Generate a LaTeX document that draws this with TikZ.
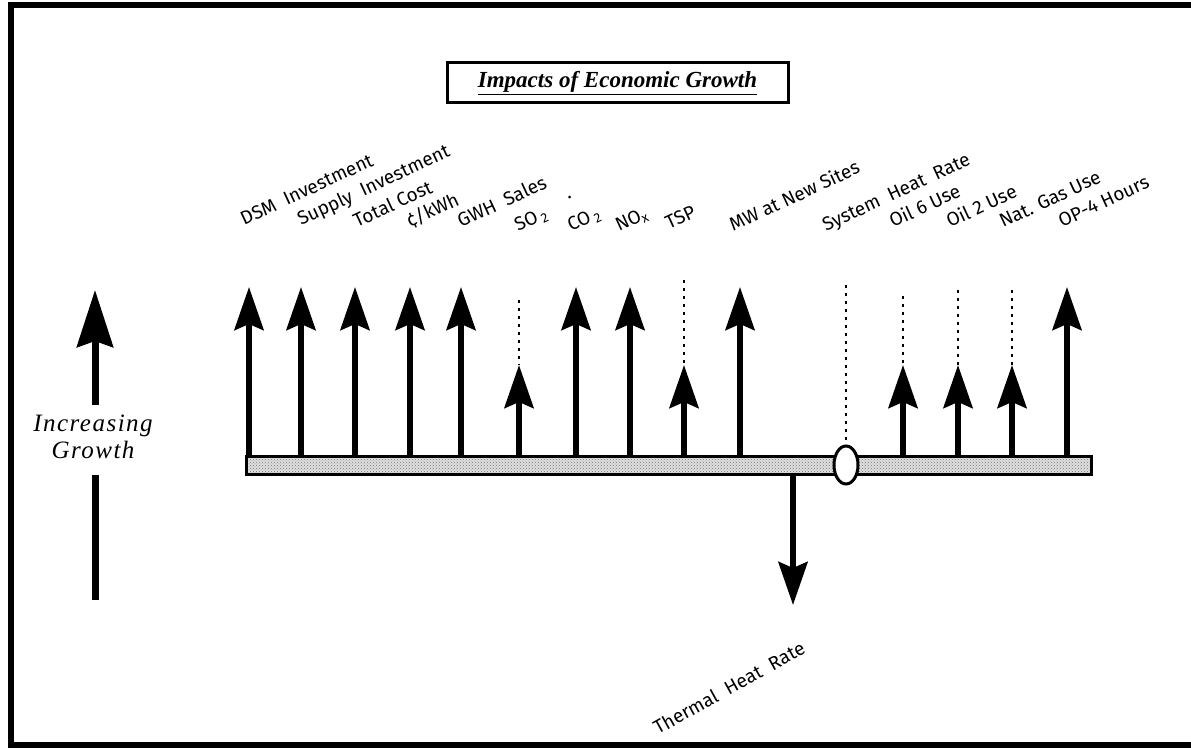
\documentclass[tikz,border=0pt]{standalone}
\usepackage{fontspec}
\newfontfamily\lab{Fira Sans}
\newfontfamily\serifit{Liberation Serif}
\usetikzlibrary{arrows.meta,patterns,shapes.geometric}
\begin{document}
\begin{tikzpicture}[x=1pt,y=-1pt,
  uparrow/.style={line width=6pt,-{Stealth[length=43pt,width=29pt,inset=6pt]}},
  dotline/.style={line width=2.6pt,dash pattern=on 3pt off 5pt},
  lbl/.style={font=\lab\fontsize{19}{21}\selectfont,rotate=25,anchor=base west,inner sep=0pt},
  frame/.style={line width=6pt},
]
\useasboundingbox (0,0) rectangle (1191,749);
% frame
\draw[frame] (1191,5) -- (11,5) -- (11,745) -- (1191,745);
% title
\node[draw,line width=3pt,minimum width=341pt,minimum height=40pt,inner sep=0pt,
      font=\serifit\fontsize{23}{26}\selectfont\bfseries\itshape] (title) at (617.5,83)
      {\underline{Impacts of Economic Growth}};
% bar
\node[draw,line width=3pt,minimum width=845pt,minimum height=18pt,inner sep=0pt,
      preaction={fill=black!12},pattern=crosshatch dots,pattern color=black!55] (bar) at (668.5,465) {};
% long arrows
\foreach \n/\x in {a/249,b/301,c/355,d/410,e/461,g/576,h/630,j/740,p/1067}{
  \coordinate (t\n) at (\x,287);
  \draw[uparrow] (t\n |- bar.north) -- (t\n);
}
% short arrows with dotted leaders
\foreach \n/\x/\top in {f/519/300,i/684/280,l/903/296,m/958/290,o/1012/290}{
  \coordinate (t\n) at (\x,365);
  \coordinate (d\n) at (\x,\top);
  \draw[uparrow] (t\n |- bar.north) -- (t\n);
  \draw[dotline] (d\n) -- (t\n);
}
% system heat rate ellipse
\node[ellipse,draw,fill=white,line width=3pt,minimum width=24pt,minimum height=38pt,inner sep=0pt] (ell) at (846,465) {};
\coordinate (dk) at (846,285);
\draw[dotline] (dk) -- (ell.north);
% down arrow
\coordinate (down) at (793,605);
\draw[uparrow] (down |- bar.south) -- (down);
% increasing growth
\node[font=\serifit\fontsize{25}{27}\selectfont\itshape\addfontfeatures{LetterSpace=6},align=center,inner sep=0pt] (grow) at (93,437)
  {Increasing\\Growth};
\coordinate (gtop) at (95,290);
\coordinate (gbot) at (95,600);
\coordinate (gmid1) at (95,405);
\coordinate (gmid2) at (95,475);
\draw[line width=7pt,-{Stealth[length=57pt,width=36pt,inset=6pt]}] (gmid1) -- (gtop);
\draw[line width=7pt] (gmid2) -- (gbot);
% labels
\node[lbl] (la) at (244,226) {DSM\ \ Investment};
\node[lbl] (lb) at (301,226) {Supply\ \ Investment};
\node[lbl] (lc) at (357,228) {Total Cost};
\node[lbl] (ld) at (410,228) {¢/kWh};
\node[lbl] (le) at (461,228) {GWH\ \ Sales};
\node[lbl] (lf) at (518,232) {SO\,\textsubscript{2}};
\node[lbl] (ldot) at (568,200) {.};
\node[lbl] (lg) at (571,232) {CO\,\textsubscript{2}};
\node[lbl] (lh) at (619,232) {NO\textsubscript{x}};
\node[lbl] (li) at (669,230) {TSP};
\node[lbl] (lj) at (733,232) {MW at New Sites};
\node[lbl] (lk) at (826,232) {System\ \ Heat\ \ Rate};
\node[lbl] (ll) at (893,228) {Oil 6 Use};
\node[lbl] (lm) at (950,228) {Oil 2 Use};
\node[lbl] (lo) at (1003,228) {Nat. Gas Use};
\node[lbl] (lp) at (1062,228) {OP-4 Hours};
\node[lbl,rotate=4] (lq) at (658,735) {Thermal\ \ Heat\ \ Rate};
\end{tikzpicture}
\end{document}
